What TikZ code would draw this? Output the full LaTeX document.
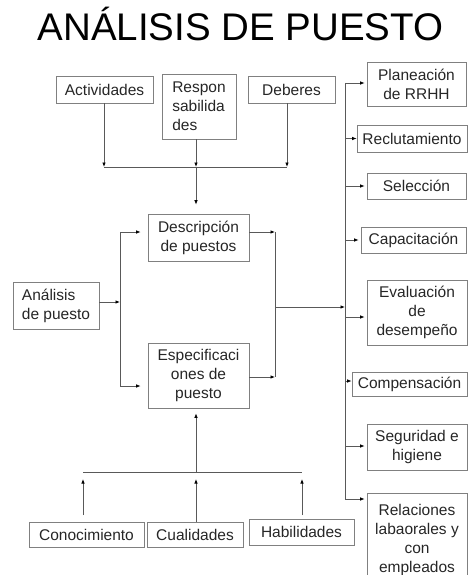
\documentclass[tikz,border=0pt]{standalone}
\usepackage{fontspec}
\setmainfont{Liberation Sans}
\usetikzlibrary{arrows.meta}
\begin{document}
\begin{tikzpicture}[x=1pt, y=-1pt, >={Latex[length=4.5pt,width=3.6pt,color=black]},
  every node/.style={inner sep=3pt, font=\fontsize{15.5}{19}\selectfont, text=black!85},
  box/.style={draw=black!50, line width=0.8pt, align=center},
  line/.style={draw=black!65, line width=0.8pt}]
\useasboundingbox (0,0) rectangle (467,575);
\node[anchor=base, font=\fontsize{38.5}{40}\selectfont, text=black] (title) at (240.5,41) {ANÁLISIS DE PUESTO};
\node[box, minimum width=97pt, minimum height=27pt] (act) at (104.5,89.5) {Actividades};
\node[box, align=left, minimum width=74pt, minimum height=65pt] (resp) at (199,106.5) {Respon\\sabilida\\des};
\node[box, minimum width=87pt, minimum height=27pt] (deb) at (291.5,89.5) {Deberes};
\node[box, minimum width=101pt, minimum height=47pt] (desc) at (198.5,237.5) {Descripción\\de puestos};
\node[box, minimum width=101pt, minimum height=65pt] (esp) at (198.5,375.5) {Especificaci\\ones de\\puesto};
\node[box, align=left, minimum width=86pt, minimum height=47pt] (ana) at (56,305.5) {Análisis\\de puesto};
\node[box, minimum width=99pt, minimum height=44pt] (plan) at (416.5,84) {Planeación\\de RRHH};
\node[box, minimum width=110pt, minimum height=27pt] (recl) at (412,138.5) {Reclutamiento};
\node[box, minimum width=99pt, minimum height=26pt] (sel) at (416.5,186) {Selección};
\node[box, minimum width=105pt, minimum height=26pt] (cap) at (413.5,240) {Capacitación};
\node[box, minimum width=100pt, minimum height=65pt] (eval) at (417,312.5) {Evaluación\\de\\desempeño};
\node[box, minimum width=115pt, minimum height=24pt] (comp) at (409.5,384.5) {Compensación};
\node[box, minimum width=100pt, minimum height=46pt] (seg) at (417,447) {Seguridad e\\higiene};
\node[box, minimum width=100pt, minimum height=92pt] (rel) at (417,539.5) {Relaciones\\labaorales y\\con\\empleados};
\node[box, minimum width=115pt, minimum height=25pt] (con) at (86.5,534.5) {Conocimiento};
\node[box, minimum width=96pt, minimum height=25pt] (cua) at (195,534.5) {Cualidades};
\node[box, minimum width=105pt, minimum height=26pt] (hab) at (301.5,532) {Habilidades};
\coordinate (topbus) at (196,167);
\coordinate (ld) at (120,232);
\coordinate (le) at (120,386);
\coordinate (rd) at (275,232);
\coordinate (re) at (275,377);
\coordinate (rm) at (275,307);
\coordinate (bustop) at (345,83);
\coordinate (busbot) at (345,499);
\coordinate (botbus) at (196,472);
\draw[line, ->] (act.south -| 104,0) -- (104,167);
\draw[line, ->] (resp.south -| topbus) -- (topbus);
\draw[line, ->] (deb.south -| 287,0) -- (287,167);
\draw[line] (104,167) -- (287,167);
\draw[line, ->, shorten >=9pt] (topbus) -- (desc.north -| topbus);
\draw[line, ->] (ana.east |- 0,302) -- (120,302);
\draw[line] (ld) -- (le);
\draw[line, ->, shorten >=7pt] (ld) -- (ld -| desc.west);
\draw[line, ->, shorten >=7pt] (le) -- (le -| esp.west);
\draw[line, ->] (rd -| desc.east) -- (rd);
\draw[line, ->] (re -| esp.east) -- (re);
\draw[line] (rd) -- (re);
\draw[line, ->] (rm) -- (345,307);
\draw[line] (bustop) -- (busbot);
\draw[line, ->, shorten >=2pt] (bustop) -- (bustop -| plan.west);
\draw[line, ->] (345,138.5) -- (recl.west);
\draw[line, ->, shorten >=2pt] (345,186) -- (sel.west);
\draw[line, ->, shorten >=2pt] (345,240) -- (cap.west);
\draw[line, ->, shorten >=2pt] (345,317) -- (eval.west |- 0,317);
\draw[line, ->] (345,381) -- (comp.west |- 0,381);
\draw[line, ->, shorten >=2pt] (345,446) -- (seg.west |- 0,446);
\draw[line, ->, shorten >=2pt] (busbot) -- (busbot -| rel.west);
\draw[line, ->] (83,515) -- (83,479);
\draw[line, ->] (cua.north -| botbus) -- (196,479);
\draw[line, ->] (302,515) -- (302,479);
\draw[line] (83,472) -- (302,472);
\draw[line, ->, shorten >=5pt] (botbus) -- (esp.south -| botbus);
\end{tikzpicture}
\end{document}
